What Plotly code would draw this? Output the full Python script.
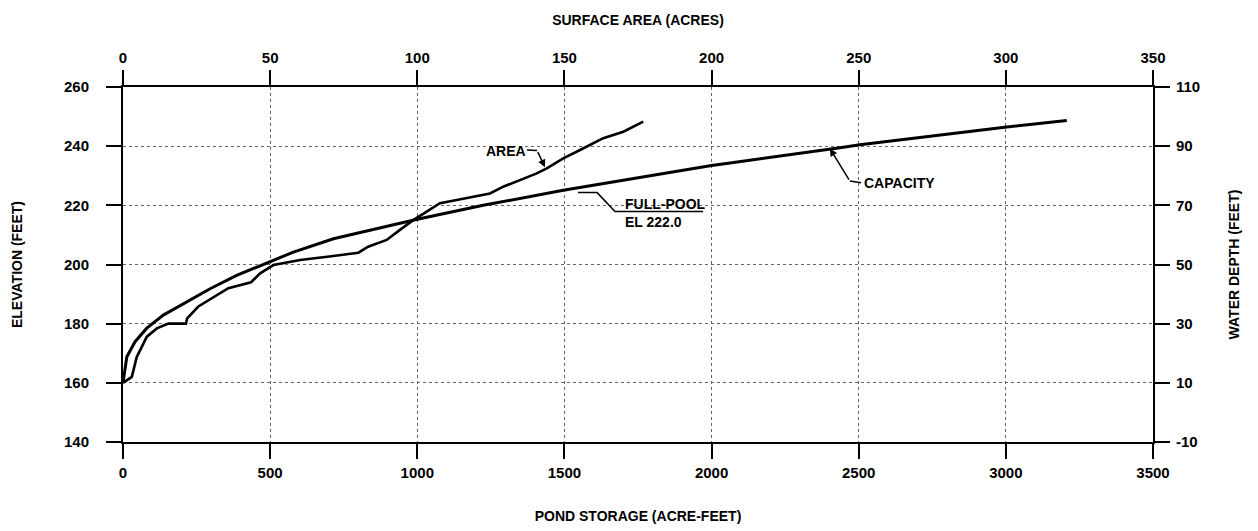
import plotly.graph_objects as go

# ---- data ----
capacity_storage = [0, 13, 41, 80, 137, 216, 296, 386, 488, 579, 715, 1000, 1224, 1451, 1496, 2000, 2063, 2436, 2504, 3003, 3207]
capacity_elev = [160, 168.8, 173.9, 178.4, 182.9, 187.4, 191.8, 196.3, 200.5, 204.2, 208.7, 215.3, 220.0, 224.3, 225.1, 233.5, 234.3, 239.5, 240.5, 246.5, 248.7]

area_acres = [0, 3.0, 4.7, 8.1, 11.5, 15.4, 21.4, 21.8, 25.6, 29.6, 35.8, 43.5, 46.6, 51.1, 60.2, 71.5, 80.0, 83.3, 89.6, 94.1, 98.6, 103.2, 107.7, 113.4, 124.7, 129.2, 133.8, 140.6, 144.0, 149.6, 155.3, 163.2, 170.0, 176.8]
area_elev = [160, 162.0, 168.8, 175.6, 178.4, 180.0, 180.0, 181.8, 185.8, 188.2, 192.0, 194.0, 197.0, 199.8, 201.5, 202.9, 204.0, 206.0, 208.3, 211.7, 215.0, 217.9, 220.7, 221.8, 224.0, 226.3, 228.2, 230.8, 232.5, 235.9, 238.7, 242.7, 244.9, 248.3]

storage_ticks = [0, 500, 1000, 1500, 2000, 2500, 3000, 3500]
area_ticks = [0, 50, 100, 150, 200, 250, 300, 350]
elev_ticks = [140, 160, 180, 200, 220, 240, 260]
depth_ticks = [-10, 10, 30, 50, 70, 90, 110]
depth_labels = ["-10", "10", "30", "50", "70", "90", "110"]

FONT = "Liberation Sans, Arial, sans-serif"
tickfont = dict(family=FONT, size=15, color="black", weight="bold")
titlefont = dict(family=FONT, size=14, color="black", weight="bold")

fig = go.Figure()
fig.add_trace(go.Scatter(x=capacity_storage, y=capacity_elev, mode="lines",
                         line=dict(color="black", width=3), xaxis="x", yaxis="y",
                         name="CAPACITY", showlegend=False))
fig.add_trace(go.Scatter(x=area_acres, y=area_elev, mode="lines",
                         line=dict(color="black", width=2.6), xaxis="x2", yaxis="y",
                         name="AREA", showlegend=False))

grid = dict(showgrid=True, gridcolor="#666666", gridwidth=1, griddash="dot")
common = dict(ticks="outside", ticklen=15, tickwidth=2, tickcolor="black", showline=True,
              linecolor="black", linewidth=2, tickfont=tickfont, zeroline=False, automargin=False)

fig.update_layout(
    width=1258, height=531,
    margin=dict(l=115, r=113, t=79, b=97),
    paper_bgcolor="white", plot_bgcolor="white",
    xaxis=dict(range=[0, 3500], tickvals=storage_ticks, ticklabelstandoff=1,
               title=dict(text="POND STORAGE (ACRE-FEET)", font=titlefont, standoff=31),
               **common, **grid),
    xaxis2=dict(range=[0, 350], tickvals=area_ticks, side="top", overlaying="x", anchor="y",
                showgrid=False, ticklabelstandoff=1,
                title=dict(text="SURFACE AREA (ACRES)", font=titlefont, standoff=20), **common),
    yaxis=dict(range=[140, 260], tickvals=elev_ticks, ticklabelstandoff=14,
               title=dict(text="ELEVATION (FEET)", font=titlefont, standoff=38),
               **common, **grid),
    yaxis2=dict(range=[-10, 110], tickvals=depth_ticks, ticktext=depth_labels,
                side="right", overlaying="y", anchor="x", showgrid=False, ticklabelstandoff=3,
                title=dict(text="WATER DEPTH (FEET)", font=titlefont, standoff=30), **common),
)
# invisible trace to activate yaxis2
fig.add_trace(go.Scatter(x=[None], y=[None], xaxis="x", yaxis="y2", showlegend=False))

# ---- labels and leader lines ----
lbl = dict(family=FONT, size=14, color="black", weight="bold")

# AREA
fig.add_shape(type="path", xref="x", yref="y", path="M 1373,238.7 L 1407,238.5",
              line=dict(color="black", width=1.5))
fig.add_annotation(x=1434, y=232.9, ax=1407, ay=238.5, xref="x", yref="y", axref="x", ayref="y",
                   showarrow=True, arrowhead=2, arrowsize=1, arrowwidth=1.5, arrowcolor="black", text="")
fig.add_annotation(x=1375, y=238.3, xref="x", yref="y", text="AREA", showarrow=False,
                   xanchor="right", font=lbl)

# CAPACITY
fig.add_shape(type="path", xref="x", yref="y", path="M 2508,227.6 L 2470,228.2",
              line=dict(color="black", width=1.5))
fig.add_annotation(x=2402, y=239.2, ax=2470, ay=228.2, xref="x", yref="y", axref="x", ayref="y",
                   showarrow=True, arrowhead=2, arrowsize=1, arrowwidth=1.5, arrowcolor="black", text="")
fig.add_annotation(x=2510, y=227.5, xref="x", yref="y", text="CAPACITY", showarrow=False,
                   xanchor="left", font=lbl)

# FULL-POOL
fig.add_shape(type="path", xref="x", yref="y",
              path="M 1546,224.3 L 1611,224.3 L 1672,217.9 L 1971,217.9",
              line=dict(color="black", width=1.5))
fig.add_annotation(x=1698, y=220.5, xref="x", yref="y", text="FULL-POOL", showarrow=False,
                   xanchor="left", font=lbl)
fig.add_annotation(x=1698, y=214.3, xref="x", yref="y", text="EL 222.0", showarrow=False,
                   xanchor="left", font=lbl)

fig.write_html("out.html")
